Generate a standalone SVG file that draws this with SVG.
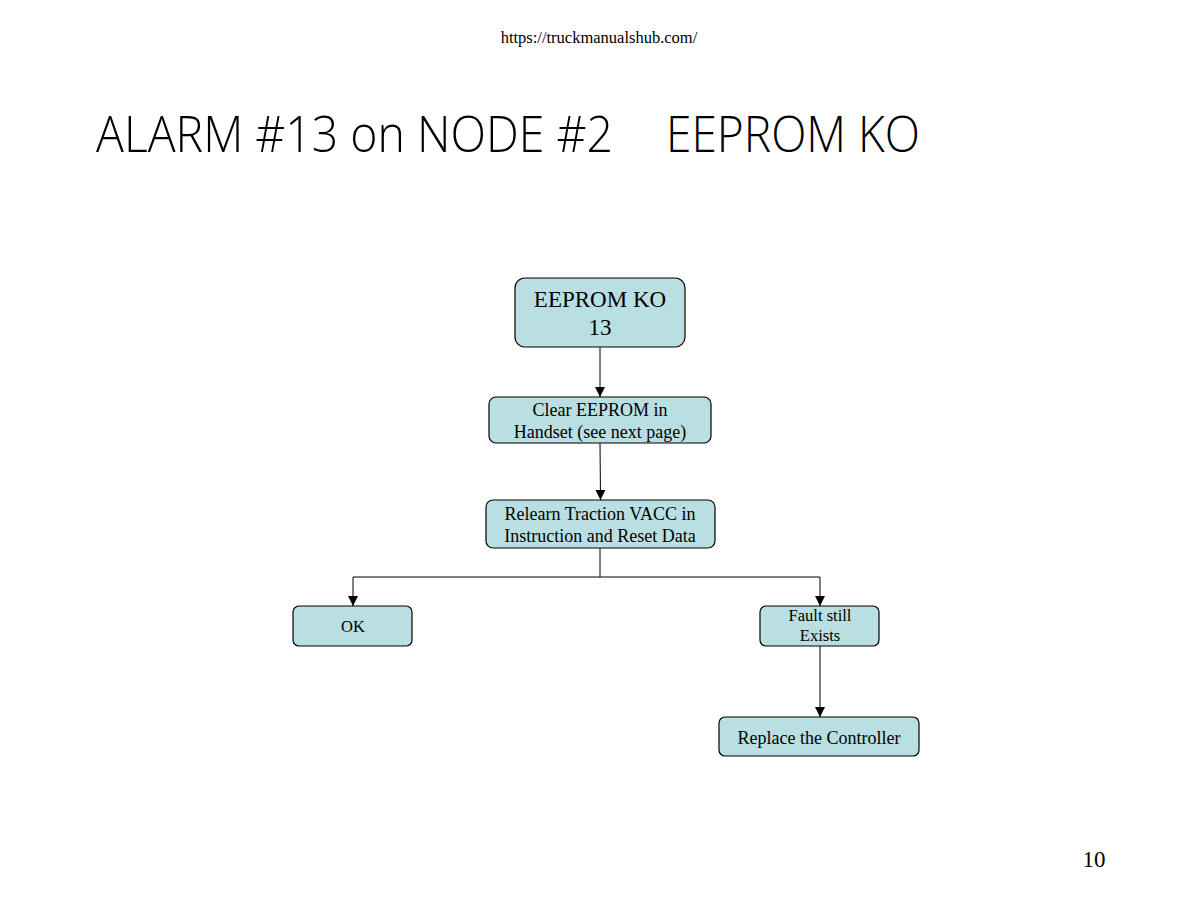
<svg xmlns="http://www.w3.org/2000/svg" width="1200" height="900" viewBox="0 0 1200 900">
<style>
.box{fill:#badfe2;stroke:#000;stroke-width:1.2}
.t{font-family:"Liberation Serif","Times New Roman",serif;fill:#000;text-anchor:middle}
.c{fill:none;stroke:#000;stroke-width:1}
</style>
<defs>
<marker id="arr" viewBox="0 0 10 10" refX="10" refY="5" markerWidth="10" markerHeight="10" markerUnits="userSpaceOnUse" orient="auto">
<path d="M0,0 L10,5 L0,10 z" fill="#000"/>
</marker>
</defs>
<rect width="1200" height="900" fill="#fff"/>
<text class="t" x="599" y="43" font-size="16.5">https://truckmanualshub.com/</text>
<text x="96" y="152" font-family="'Open Sans','Noto Sans',sans-serif" font-weight="300" font-size="50" textLength="517" lengthAdjust="spacingAndGlyphs">ALARM #13 on NODE #2</text>
<text x="666" y="152" font-family="'Open Sans','Noto Sans',sans-serif" font-weight="300" font-size="50" textLength="254" lengthAdjust="spacingAndGlyphs">EEPROM KO</text>
<text class="t" x="1094" y="867" font-size="23">10</text>
<g id="connectors">
<line class="c" x1="600" y1="347" x2="600" y2="397" marker-end="url(#arr)"/>
<line class="c" x1="600" y1="443" x2="600.5" y2="500" marker-end="url(#arr)"/>
<polyline class="c" points="600,548 600,577"/>
<polyline class="c" points="600,577 353,577 353,606" marker-end="url(#arr)"/>
<polyline class="c" points="600,577 820,577 820,606" marker-end="url(#arr)"/>
<line class="c" x1="820" y1="646" x2="820" y2="717" marker-end="url(#arr)"/>
</g>
<g id="n1">
<rect class="box" x="515" y="278" width="170" height="69" rx="10"/>
<text class="t" x="600" y="307" font-size="23">EEPROM KO</text>
<text class="t" x="600" y="335" font-size="23">13</text>
</g>
<g id="n2">
<rect class="box" x="489" y="397" width="222" height="46" rx="7"/>
<text class="t" x="600" y="416" font-size="18">Clear EEPROM in</text>
<text class="t" x="600" y="438" font-size="18">Handset (see next page)</text>
</g>
<g id="n3">
<rect class="box" x="486" y="500" width="229" height="48" rx="7"/>
<text class="t" x="600" y="520" font-size="18">Relearn Traction VACC in</text>
<text class="t" x="600" y="542" font-size="18">Instruction and Reset Data</text>
</g>
<g id="n4">
<rect class="box" x="293" y="606" width="119" height="40" rx="6"/>
<text class="t" x="353" y="632" font-size="16.5">OK</text>
</g>
<g id="n5">
<rect class="box" x="760" y="606" width="119" height="40" rx="6"/>
<text class="t" x="820" y="621" font-size="16.5">Fault still</text>
<text class="t" x="820" y="641" font-size="16.5">Exists</text>
</g>
<g id="n6">
<rect class="box" x="719" y="717" width="200" height="39" rx="6"/>
<text class="t" x="819" y="744" font-size="18">Replace the Controller</text>
</g>
</svg>
